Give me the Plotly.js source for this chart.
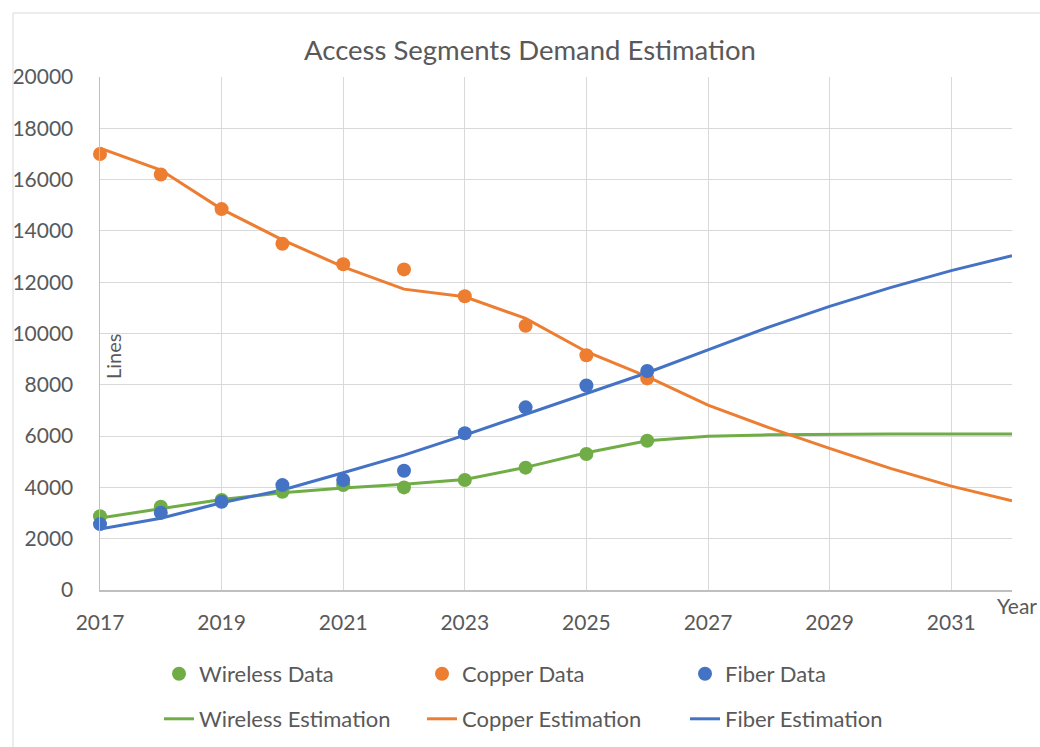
<!DOCTYPE html>
<html>
<head>
<meta charset="utf-8">
<script src="https://cdn.plot.ly/plotly-3.0.1.min.js"></script>
<style>html,body{margin:0;padding:0;background:#fff;}#chart{width:1040px;height:747px;}</style>
</head>
<body>
<div id="chart"></div>
<script>
var dataYears = [2017, 2018, 2019, 2020, 2021, 2022, 2023, 2024, 2025, 2026];
var wirelessData = [2880, 3250, 3510, 3830, 4090, 4000, 4290, 4770, 5300, 5820];
var copperData = [17000, 16200, 14850, 13500, 12700, 12500, 11450, 10300, 9150, 8250];
var fiberData = [2570, 3010, 3440, 4090, 4290, 4650, 6110, 7120, 7970, 8540];

var estYears = [2017, 2018, 2019, 2020, 2021, 2022, 2023, 2024, 2025, 2026, 2027, 2028, 2029, 2030, 2031, 2032];
var wirelessEst = [2810, 3180, 3530, 3790, 3980, 4120, 4310, 4780, 5350, 5820, 5990, 6050, 6070, 6080, 6080, 6080];
var copperEst = [17230, 16370, 14850, 13650, 12600, 11730, 11430, 10590, 9290, 8320, 7210, 6330, 5520, 4740, 4050, 3480];
var fiberEst = [2380, 2800, 3400, 3900, 4570, 5260, 6040, 6860, 7670, 8470, 9360, 10250, 11060, 11790, 12450, 13030];

var xTicks = [2017, 2019, 2021, 2023, 2025, 2027, 2029, 2031];

var green = '#70ad47', orange = '#ed7d31', blue = '#4472c4';
var fontFam = 'Lato, "Open Sans", sans-serif';
var txt = '#595959';

function dots(name, y, c) {
  return {x: dataYears, y: y, name: name, type: 'scatter', mode: 'markers',
    marker: {color: c, size: 14}, legend: 'legend', cliponaxis: false};
}
function line(name, y, c) {
  return {x: estYears, y: y, name: name, type: 'scatter', mode: 'lines',
    line: {color: c, width: 3}, legend: 'legend2', cliponaxis: false};
}

var traces = [
  line('Wireless Estimation', wirelessEst, green),
  line('Copper Estimation', copperEst, orange),
  line('Fiber Estimation', fiberEst, blue),
  dots('Wireless Data', wirelessData, green),
  dots('Copper Data', copperData, orange),
  dots('Fiber Data', fiberData, blue)
];

var legendCommon = {
  orientation: 'h', xref: 'container', yref: 'container', xanchor: 'left', yanchor: 'middle',
  font: {family: fontFam, size: 22, color: txt}, entrywidth: 218, entrywidthmode: 'pixels',
  bgcolor: 'rgba(0,0,0,0)', traceorder: 'normal'
};

var layout = {
  width: 1040, height: 747,
  paper_bgcolor: '#ffffff', plot_bgcolor: '#ffffff',
  margin: {l: 100, r: 28, t: 77, b: 157},
  font: {family: fontFam, color: txt},
  title: {text: 'Access Segments Demand Estimation', x: 530/1040, xref: 'container', xanchor: 'center',
    y: 1 - 50/747, yref: 'container', yanchor: 'middle', font: {family: fontFam, size: 27.5, color: txt}},
  xaxis: {range: [2017, 2032], tickvals: xTicks, ticktext: xTicks.map(String), showgrid: true,
    gridcolor: '#d9d9d9', gridwidth: 1, zeroline: false, showline: true, linecolor: '#bfbfbf', linewidth: 1.5,
    ticks: '', ticklabelstandoff: 13, tickfont: {family: fontFam, size: 21, color: txt}, fixedrange: true},
  yaxis: {range: [0, 20000], dtick: 2000, tickformat: 'd', showgrid: true, gridcolor: '#d9d9d9', gridwidth: 1,
    zeroline: false, showline: true, linecolor: '#bfbfbf', linewidth: 1.5, ticks: '', ticklabelstandoff: 21,
    tickfont: {family: fontFam, size: 21, color: txt}, fixedrange: true},
  legend: Object.assign({}, legendCommon, {x: 159/1040, y: 1 - 674/747}),
  legend2: Object.assign({}, legendCommon, {x: 159/1040, y: 1 - 719/747}),
  annotations: [
    {text: 'Lines', xref: 'paper', yref: 'paper', x: (113-100)/912, y: (590-357)/513, textangle: -90,
      showarrow: false, font: {family: fontFam, size: 20, color: txt}, xanchor: 'center', yanchor: 'middle'},
    {text: 'Year', xref: 'paper', yref: 'paper', x: (995-100)/912, y: (590-605)/513, showarrow: false,
      xanchor: 'left', yanchor: 'middle', font: {family: fontFam, size: 21, color: txt}}
  ],
  shapes: [
    {type: 'line', xref: 'paper', yref: 'paper', x0: (13-100)/912, x1: (13-100)/912, y0: (590-13)/513, y1: (590-760)/513,
      line: {color: '#d9d9d9', width: 1}},
    {type: 'line', xref: 'paper', yref: 'paper', x0: (13-100)/912, x1: (1060-100)/912, y0: (590-13)/513, y1: (590-13)/513,
      line: {color: '#d9d9d9', width: 1}}
  ],
  showlegend: true
};

Plotly.newPlot('chart', traces, layout, {displayModeBar: false, staticPlot: true});
</script>
</body>
</html>
